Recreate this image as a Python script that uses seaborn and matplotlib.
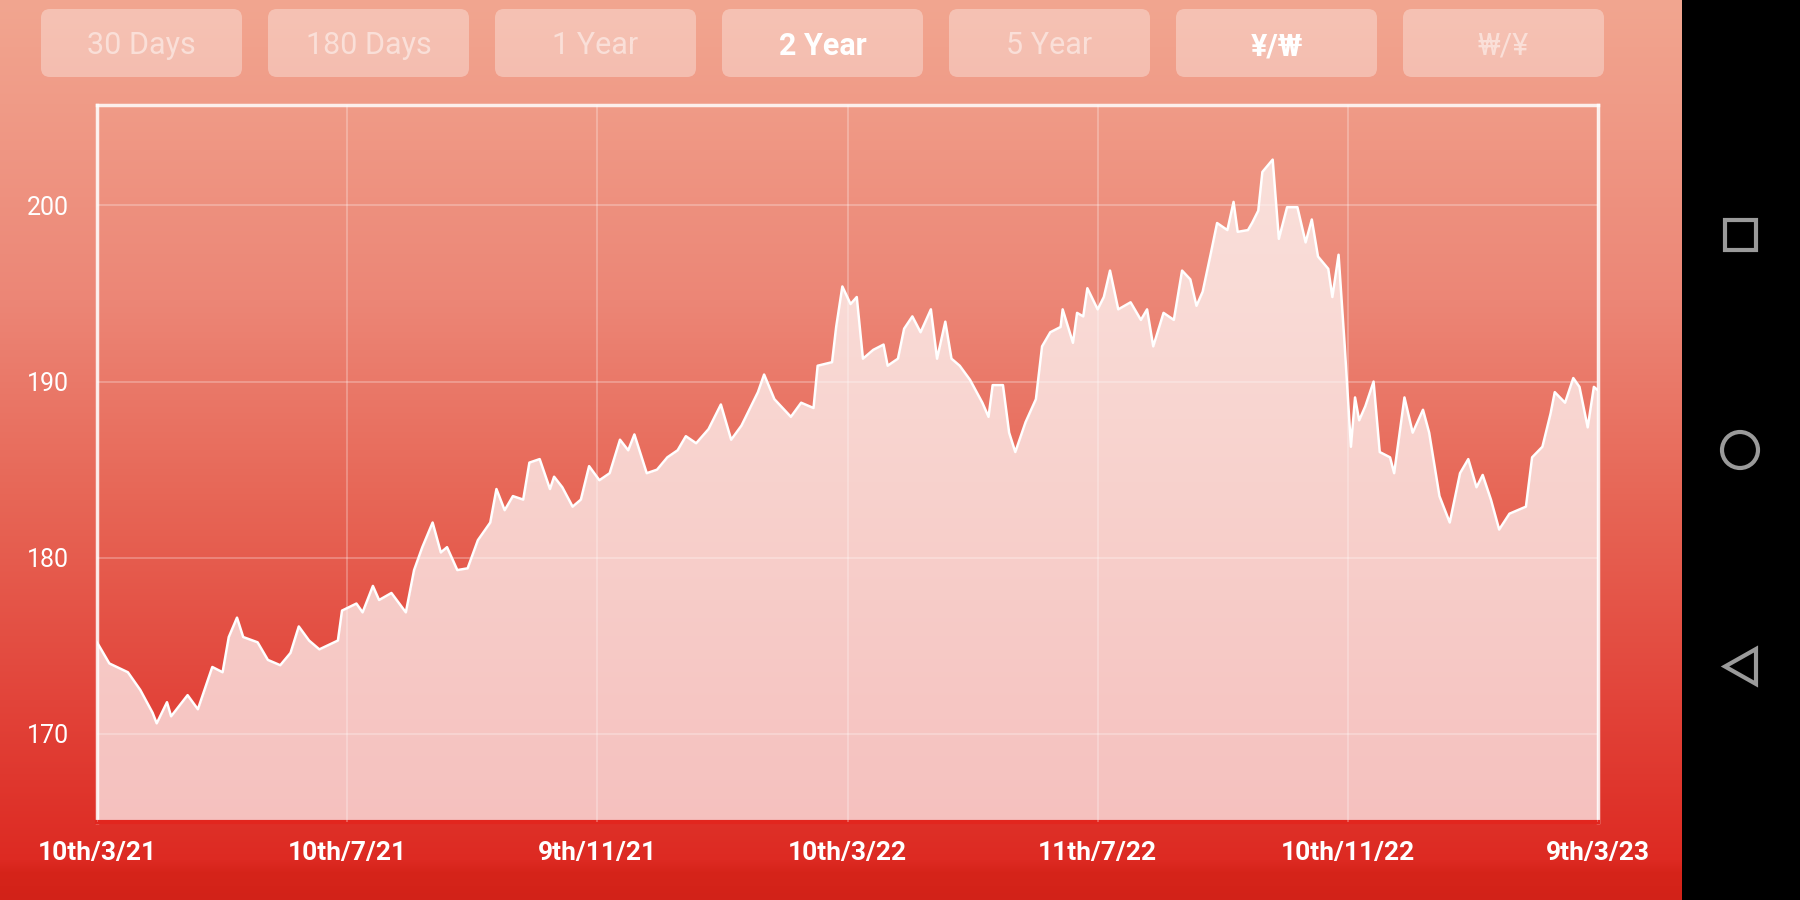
import numpy as np
import pandas as pd
import seaborn as sns
import matplotlib.pyplot as plt
import matplotlib.dates as mdates
from matplotlib.patches import FancyBboxPatch, Rectangle, Circle, Polygon

# KRW per JPY over two years
start_date = "2021-03-10"
end_date = "2023-03-09"
day_offsets = [0, 6, 15, 21, 27, 29, 34, 36, 44, 49, 56, 61, 64, 68, 71, 78, 83, 89, 94, 98,
               103, 108, 117, 119, 126, 129, 134, 137, 143, 150, 154, 158, 163, 167, 170, 175, 180, 185, 191, 194,
               198, 202, 207, 210, 215, 220, 222, 226, 231, 235, 239, 244, 249, 254, 258, 261, 267, 272, 277, 282,
               286, 291, 297, 303, 308, 313, 321, 324, 329, 337, 342, 348, 350, 357, 359, 362, 366, 369, 372, 377,
               382, 384, 389, 392, 396, 400, 405, 408, 412, 415, 419, 424, 430, 433, 435, 440, 443, 446, 451, 456,
               459, 463, 468, 469, 474, 476, 479, 481, 486, 489, 492, 496, 502, 507, 510, 513, 518, 523, 527, 531,
               534, 537, 541, 544, 549, 552, 554, 559, 561, 564, 566, 571, 574, 578, 583, 587, 590, 593, 598, 600,
               603, 606, 609, 611, 613, 616, 620, 623, 628, 630, 635, 639, 644, 647, 652, 657, 662, 666, 670, 673,
               677, 681, 686, 690, 694, 697, 702, 706, 708, 713, 717, 720, 724, 727, 729]
rates = [175.2, 174.0, 173.5, 172.5, 171.2, 170.6, 171.8, 171.0, 172.2, 171.4, 173.8, 173.5, 175.5, 176.6, 175.5, 175.2, 174.2, 173.9, 174.6, 176.1,
         175.3, 174.8, 175.3, 177.0, 177.4, 176.9, 178.4, 177.6, 178.0, 176.9, 179.3, 180.6, 182.0, 180.3, 180.6, 179.3, 179.4, 181.0, 182.0, 183.9,
         182.7, 183.5, 183.3, 185.4, 185.6, 183.9, 184.6, 184.0, 182.9, 183.3, 185.2, 184.4, 184.8, 186.7, 186.1, 187.0, 184.8, 185.0, 185.7, 186.1,
         186.9, 186.5, 187.3, 188.7, 186.7, 187.5, 189.4, 190.4, 189.0, 188.0, 188.8, 188.5, 190.9, 191.1, 193.1, 195.4, 194.4, 194.8, 191.3, 191.8,
         192.1, 190.9, 191.3, 193.0, 193.7, 192.8, 194.1, 191.3, 193.4, 191.3, 190.9, 190.1, 188.8, 188.0, 189.8, 189.8, 187.1, 186.0, 187.7, 189.0,
         192.0, 192.8, 193.1, 194.1, 192.2, 193.9, 193.7, 195.3, 194.1, 194.8, 196.3, 194.1, 194.5, 193.5, 194.1, 192.0, 193.9, 193.5, 196.3, 195.8,
         194.3, 195.1, 197.3, 199.0, 198.6, 200.2, 198.5, 198.6, 199.0, 199.7, 201.9, 202.6, 198.1, 199.9, 199.9, 197.9, 199.2, 197.1, 196.4, 194.8,
         197.2, 192.0, 186.3, 189.1, 187.8, 188.6, 190.0, 186.0, 185.7, 184.8, 189.1, 187.1, 188.4, 187.1, 183.5, 182.0, 184.8, 185.6, 184.0, 184.7,
         183.3, 181.6, 182.5, 182.7, 182.9, 185.7, 186.3, 188.2, 189.4, 188.8, 190.2, 189.7, 187.4, 189.7, 189.5]
x_tick_labels = ["10th/3/21", "10th/7/21", "9th/11/21", "10th/3/22", "11th/7/22", "10th/11/22", "9th/3/23"]
y_ticks = [170, 180, 190, 200]
y_range = (165.0, 205.7)
buttons = ["30 Days", "180 Days", "1 Year", "2 Year", "5 Year", "¥/₩", "₩/¥"]
selected = ["2 Year", "¥/₩"]

dates = pd.to_datetime(start_date) + pd.to_timedelta(day_offsets, unit="D")
df = pd.DataFrame({"date": dates, "rate": rates})

sns.set_theme(style="white")
plt.rcParams["font.family"] = ["Roboto", "DejaVu Sans"]

fig = plt.figure(figsize=(18, 9), dpi=100)

# full-figure background in pixel coordinates
bg = fig.add_axes([0, 0, 1, 1])
bg.set_xlim(0, 1800)
bg.set_ylim(900, 0)
bg.axis("off")
stops = [0, 300, 500, 700, 860, 872, 900]
cols = np.array([[242, 166, 144], [236, 134, 118], [231, 102, 86], [226, 68, 58],
                 [221, 42, 34], [214, 36, 26], [210, 34, 24]]) / 255
rows = np.arange(900)
grad = np.stack([np.interp(rows, stops, cols[:, i]) for i in range(3)], axis=-1)
grad = np.repeat(grad[:, None, :], 2, axis=1)
bg.imshow(grad, extent=[0, 1800, 900, 0], aspect="auto", interpolation="bilinear")

# range / currency buttons
for i, name in enumerate(buttons):
    x0 = 41 + i * 227
    bg.add_patch(FancyBboxPatch((x0, 9), 201, 68, boxstyle="round,pad=0,rounding_size=9",
                                fc="white", alpha=0.33, lw=0))
    on = name in selected
    bg.text(x0 + 100.5, 46, name, ha="center", va="center", fontsize=22,
            color="white", alpha=1.0 if on else 0.5, fontweight="bold" if on else "normal",
            family=["Roboto", "DejaVu Sans"])

# android nav bar
bg.add_patch(Rectangle((1682, 0), 118, 900, fc="black", lw=0))
nav = "#9a9a9a"
bg.add_patch(Rectangle((1725, 220), 31, 30, fill=False, ec=nav, lw=3))
bg.add_patch(Circle((1740, 450), 18, fill=False, ec=nav, lw=3))
bg.add_patch(Polygon([[1756, 649], [1756, 684], [1725, 666.5]], closed=True, fill=False, ec=nav, lw=3))

# chart
ax = fig.add_axes([97 / 1800, 78 / 900, 1501 / 1800, 717 / 900])
ax.set_facecolor("none")
ax.fill_between(df["date"], df["rate"], y_range[0], color="white", alpha=0.7, lw=0, zorder=1)
sns.lineplot(data=df, x="date", y="rate", color="white", lw=1.8, ax=ax, zorder=3)

x0n = mdates.date2num(pd.Timestamp(start_date))
x1n = mdates.date2num(pd.Timestamp(end_date))
ax.set_xlim(x0n, x1n)
ax.set_ylim(*y_range)
ax.set_xticks(np.linspace(x0n, x1n, len(x_tick_labels)))
ax.set_xticklabels(x_tick_labels, fontsize=19, color="white", fontweight="bold")
ax.set_yticks(y_ticks)
ax.set_yticklabels([str(v) for v in y_ticks], fontsize=18, color="white")
ax.tick_params(axis="x", length=0, pad=14)
ax.tick_params(axis="y", length=0, pad=20)
ax.set_xlabel("")
ax.set_ylabel("")

ax.set_axisbelow(False)
ax.grid(True, color="white", alpha=0.3, lw=1.2, zorder=2)

for side in ["top", "left", "right"]:
    ax.spines[side].set_color("white")
    ax.spines[side].set_alpha(0.85)
    ax.spines[side].set_linewidth(2.5)
ax.spines["bottom"].set_color("#e2261e")
ax.spines["bottom"].set_linewidth(3)

fig.savefig("out.png", dpi=100)
